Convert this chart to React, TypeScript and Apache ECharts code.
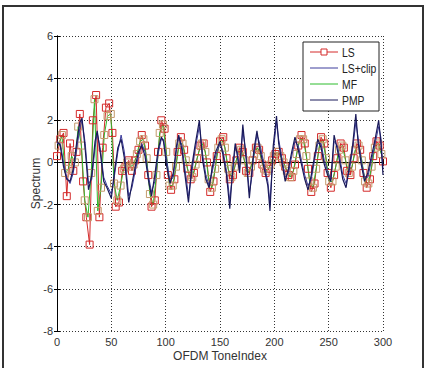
import React, { useEffect, useRef } from "react";
import * as echarts from "echarts";

const X_TICKS = [0, 50, 100, 150, 200, 250, 300];
const Y_TICKS = [-8, -6, -4, -2, 0, 2, 4, 6];

// LS samples every 3 tones (0..300)
const LS_X = Array.from({ length: 101 }, (_, i) => i * 3);
const LS_Y = [
  0.3, 1.1, 1.4, -1.6, 0.9, -0.4, 0.5, 2.3, -0.9, -2.6,
  -3.9, 2.0, 3.2, -2.6, 0.7, 2.6, 2.8, 1.4, -2.1, -1.9,
  -0.4, -0.2, 0.1, -0.4, 0.1, 0.6, 1.3, 0.8, -0.6, -2.1,
  -1.8, 0.5, 2.0, 1.6, -0.6, -1.3, -0.8, 0.5, 1.2, 0.6,
  -0.3, -0.8, -0.5, 0.2, 0.8, 0.9, 0.0, -1.4, -0.9, 0.3,
  1.0, 1.2, 0.2, -0.8, -0.6, 0.1, 0.7, 0.5, -0.4, -0.5,
  0.1, 0.7, 0.6, -0.1, -0.5, -0.3, 0.1, 0.4, 0.5, 0.2,
  -0.2, -0.6, -0.7, -0.1, 0.8, 1.3, 0.9, -0.3, -1.4, -1.0,
  0.3, 1.2, 0.9, -0.5, -1.2, -0.6, 0.2, 0.9, 0.7, -0.4,
  -0.6, 0.2, 0.9, 0.6, -0.5, -1.2, -0.8, 0.3, 1.0, 0.8,
  0.05,
];

// MF samples every 3 tones starting at 1.5
const MF_X = Array.from({ length: 100 }, (_, i) => 1.5 + i * 3);
const MF_Y = [
  0.8, 1.3, -0.5, -0.3, 0.3, 0.0, 1.7, 0.8, -1.8, -2.6,
  -0.5, 3.0, -2.3, -1.2, 1.3, 2.2, 2.3, -1.0, -1.8, -1.1,
  -0.3, 0.0, -0.2, -0.1, 0.4, 1.0, 1.1, 0.2, -1.5, -2.0,
  -0.6, 1.4, 1.8, 0.5, -1.1, -1.1, -0.2, 0.9, 0.9, 0.1,
  -0.6, -0.7, -0.1, 0.5, 0.9, 0.5, -0.8, -1.2, -0.3, 0.7,
  1.1, 0.7, -0.3, -0.7, -0.2, 0.4, 0.6, 0.1, -0.5, -0.2,
  0.4, 0.7, 0.3, -0.3, -0.4, -0.1, 0.3, 0.5, 0.3, 0.0,
  -0.4, -0.7, -0.4, 0.4, 1.1, 1.1, 0.3, -0.9, -1.2, -0.3,
  0.8, 1.1, 0.2, -0.9, -0.9, -0.2, 0.6, 0.8, 0.1, -0.5,
  -0.2, 0.6, 0.8, 0.1, -0.9, -1.0, -0.2, 0.7, 0.9, 0.4,
];

// LS+clip and PMP (irregular tone positions)
const CLIP_X = [
  0, 3, 6, 9, 12, 15, 18, 21, 23, 26, 29, 32, 35, 37, 40, 43, 46, 50, 53, 56,
  59, 62, 66, 69, 72, 75, 78, 81, 84, 87, 90, 93, 96, 98, 101, 104, 107, 110, 112, 115,
  118, 121, 124, 127, 131, 134, 137, 140, 143, 146, 150, 153, 156, 159, 162, 164, 166, 168, 171, 174,
  177, 179, 181, 184, 186, 189, 192, 194, 196, 199, 202, 204, 207, 210, 213, 216, 219, 222, 225, 228,
  231, 234, 237, 240, 243, 246, 249, 252, 255, 258, 261, 263, 266, 269, 272, 275, 277, 280, 283, 286,
  289, 292, 296, 298, 300,
];
const CLIP_Y = [
  0.9, 0.9, 0.0, -0.7, -1.0, -0.5, 0.6, 1.6, 2.0, 0.9, -1.0, -0.8, 0.7, 1.4, 0.6, -0.7, -1.1, -1.5, -0.6, 0.5,
  1.3, 0.5, -1.6, -1.2, -0.4, 0.3, 0.9, 0.5, -0.6, -1.4, -0.9, 0.4, 1.1, 1.1, 0.1, -0.9, -0.7, 0.6, 1.2, 0.8,
  -0.4, -1.6, -0.5, 0.6, 1.7, 0.4, -0.6, -1.1, -0.4, 0.3, 0.9, 0.5, -0.4, -1.8, -0.3, 0.7, 0.5, -0.3, 1.5, 0.4,
  -1.4, -0.8, 0.3, 1.3, 1.0, 0.3, -0.4, -0.9, -1.9, 0.5, 1.9, 1.1, 0.2, -0.7, -0.5, 0.3, 1.0, 0.8, 0.1, -0.6,
  -1.1, -0.8, 0.1, 0.9, 0.9, 0.1, -0.4, -0.8, 1.0, 0.8, 0.0, -0.6, -1.0, -0.4, 0.6, 1.9, 1.2, 0.1, -0.7, -0.7,
  0.0, 0.7, 1.7, 1.2, -0.3,
];
const PMP_X = CLIP_X;
const PMP_Y = [
  1.0, 0.8, -0.2, -0.8, -0.9, -0.3, 0.9, 1.9, 2.1, 0.6, -1.3, -0.6, 1.0, 1.5, 0.4, -0.9, -1.2, -1.7, -0.4, 0.7,
  1.1, 0.2, -1.9, -1.0, -0.2, 0.5, 0.8, 0.3, -0.8, -1.6, -0.6, 0.6, 1.2, 1.0, -0.2, -1.0, -0.5, 0.8, 1.3, 0.6,
  -0.7, -1.9, -0.2, 0.8, 2.0, 0.1, -0.8, -1.2, -0.2, 0.5, 1.0, 0.3, -0.6, -2.2, -0.1, 0.9, 0.3, -0.5, 1.8, 0.2,
  -1.7, -0.6, 0.5, 1.5, 0.8, 0.1, -0.6, -1.1, -2.3, 0.8, 2.2, 0.9, 0.0, -0.9, -0.3, 0.5, 1.2, 0.6, -0.1, -0.8,
  -1.3, -0.6, 0.3, 1.1, 0.7, -0.1, -0.6, -0.9, 1.3, 0.6, -0.2, -0.8, -1.2, -0.2, 0.8, 2.3, 1.0, -0.1, -0.9, -0.5,
  0.2, 0.9, 2.0, 1.0, -0.6,
];

const LEGEND_NAMES = ["LS", "LS+clip", "MF", "PMP"];

const FONT = "'Liberation Sans', Arial, sans-serif";
const C_LS = "#d42a2a";
const C_MARK_MF = "#c49a6c";
const C_CLIP = "#3c3c9c";
const C_MF = "#2cbc2c";
const C_PMP = "#1a1a5a";

const zip = (xs: number[], ys: number[]) => ys.map((y, i) => [xs[i], y]);

export default function App() {
  const ref = useRef<HTMLDivElement>(null);
  useEffect(() => {
    if (!ref.current) return;
    const chart = echarts.init(ref.current, null, { renderer: "svg" });
    const gridL = 57, gridT = 36, gridR = 383, gridB = 331;
    const axisCommon = {
      axisLine: { show: true, lineStyle: { color: "#000", width: 1 } },
      axisTick: { show: true, inside: true, length: 3, lineStyle: { color: "#000" } },
    };
    const splitLine = { show: true, lineStyle: { color: "#333", width: 1, type: [1, 2] } };
    const legX = 303, legY = 42, legW = 76, legH = 69;
    const rowYs = [52, 68, 84, 100];
    const rowColors = [C_LS, C_CLIP, C_MF, C_PMP];
    const legendEls: any[] = [
      {
        type: "rect",
        shape: { x: legX, y: legY, width: legW, height: legH },
        style: { fill: "#fff", stroke: "#222", lineWidth: 1 },
        z: 100,
      },
    ];
    LEGEND_NAMES.forEach((name, i) => {
      legendEls.push({
        type: "line",
        shape: { x1: 310, y1: rowYs[i], x2: 338, y2: rowYs[i] },
        style: { stroke: rowColors[i], lineWidth: 1 },
        z: 101,
      });
      if (i === 0) {
        legendEls.push({
          type: "rect",
          shape: { x: 321, y: rowYs[i] - 3, width: 6, height: 6 },
          style: { fill: "#fff", stroke: C_LS, lineWidth: 1 },
          z: 102,
        });
      }
      legendEls.push({
        type: "text",
        x: 342,
        y: rowYs[i],
        scaleX: 0.8,
        style: { text: name, fill: "#222", font: `13px ${FONT}`, verticalAlign: "middle", align: "left" },
        z: 102,
      });
    });

    chart.setOption({
      animation: false,
      backgroundColor: "#fff",
      grid: { left: gridL, top: gridT, width: gridR - gridL, height: gridB - gridT, show: false },
      xAxis: [
        {
          type: "value",
          ...axisCommon,
          min: 0,
          max: 300,
          interval: 50,
          name: "OFDM ToneIndex",
          nameLocation: "middle",
          nameGap: 19,
          nameMoveOverlap: false,
          nameTextStyle: { color: "#333", fontSize: 12, fontFamily: FONT, verticalAlign: "top" },
          axisLabel: { color: "#333", fontSize: 11, fontFamily: FONT, margin: 5 },
          splitLine,
        },
        {
          type: "value",
          position: "top",
          ...axisCommon,
          min: 0,
          max: 300,
          interval: 50,
          axisLabel: { show: false },
          splitLine: { show: false },
        },
      ],
      yAxis: [
        {
          type: "value",
          ...axisCommon,
          min: -8,
          max: 6,
          interval: 2,
          name: "Spectrum",
          nameLocation: "middle",
          nameGap: 15,
          nameMoveOverlap: false,
          nameTextStyle: { color: "#333", fontSize: 12, fontFamily: FONT },
          axisLabel: { color: "#333", fontSize: 11, fontFamily: FONT, margin: 4 },
          splitLine,
        },
        {
          type: "value",
          position: "right",
          ...axisCommon,
          min: -8,
          max: 6,
          interval: 2,
          axisLabel: { show: false },
          splitLine: { show: false },
        },
      ],
      series: [
        {
          name: "LS",
          type: "line",
          data: zip(LS_X, LS_Y),
          symbol: "rect",
          symbolSize: 7,
          showAllSymbol: true,
          lineStyle: { color: C_LS, width: 1 },
          itemStyle: { color: "rgba(0,0,0,0)", borderColor: C_LS, borderWidth: 1 },
          z: 3,
        },
        {
          name: "MF",
          type: "line",
          data: zip(MF_X, MF_Y),
          symbol: "rect",
          symbolSize: 7,
          showAllSymbol: true,
          lineStyle: { color: C_MF, width: 1 },
          itemStyle: { color: "rgba(0,0,0,0)", borderColor: C_MARK_MF, borderWidth: 1 },
          z: 3,
        },
        {
          name: "LS+clip",
          type: "line",
          data: zip(CLIP_X, CLIP_Y),
          symbol: "none",
          lineStyle: { color: C_CLIP, width: 1 },
          z: 4,
        },
        {
          name: "PMP",
          type: "line",
          data: zip(PMP_X, PMP_Y),
          symbol: "none",
          lineStyle: { color: C_PMP, width: 1.2 },
          z: 5,
        },
      ],
      graphic: [
        {
          type: "rect",
          silent: true,
          shape: { x: 3, y: 6, width: 420, height: 380 },
          style: { fill: "none", stroke: "#333", lineWidth: 2 },
          z: 50,
        },
        ...legendEls,
      ],
    });
    return () => chart.dispose();
  }, []);
  return (
    <div
      ref={ref}
      style={{ position: "fixed", left: 0, top: 0, width: 428, height: 368, background: "#fff" }}
    />
  );
}
